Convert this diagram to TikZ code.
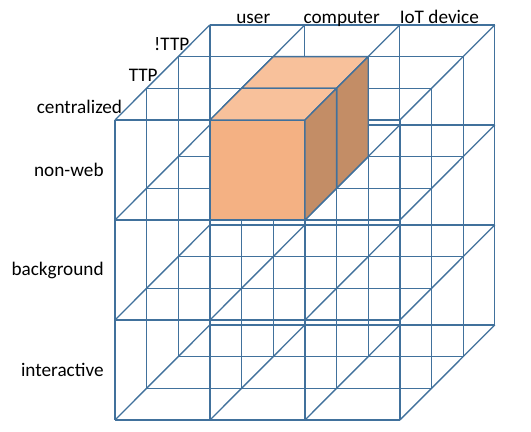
\documentclass[tikz,border=0pt]{standalone}
\usepackage{fontspec}
\setmainfont{Carlito}
\usetikzlibrary{positioning}
\definecolor{gridBlue}{HTML}{41719C}
\definecolor{boxFront}{HTML}{F4B183}
\definecolor{boxTop}{HTML}{F8C19B}
\definecolor{boxSide}{HTML}{C38D66}

\begin{document}
\begin{tikzpicture}[
    x={(2.5cm,0cm)}, y={(0cm,2.632cm)}, z={(0.832cm,0.834cm)},
    grid/.style={draw=gridBlue, line width=1pt},
    face/.style={draw=gridBlue, line width=1pt, line join=round},
    lbl/.style={font=\fontsize{14.4}{17}\selectfont, text=black}
  ]
    \useasboundingbox (-3.027cm,-0.316cm) rectangle (10.949cm,11.054cm);

    % Lattice of 3x3x3 cells
    \foreach \a in {0,...,3}{
      \foreach \b in {0,...,3}{
        \draw[grid] (\a,\b,0) -- (\a,\b,3);
        \draw[grid] (\a,0,\b) -- (\a,3,\b);
        \draw[grid] (0,\a,\b) -- (3,\a,\b);
      }
    }

    % Box: back cell
    \filldraw[face, fill=boxTop] (1,3,1) -- (2,3,1) -- (2,3,2) -- (1,3,2) -- cycle;
    \filldraw[face, fill=boxSide] (2,2,1) -- (2,3,1) -- (2,3,2) -- (2,2,2) -- cycle;

    % Box: front cell
    \filldraw[face, fill=boxFront] (1,2,0) -- (2,2,0) -- (2,3,0) -- (1,3,0) -- cycle;
    \filldraw[face, fill=boxTop] (1,3,0) -- (2,3,0) -- (2,3,1) -- (1,3,1) -- cycle;
    \filldraw[face, fill=boxSide] (2,2,0) -- (2,3,0) -- (2,3,1) -- (2,2,1) -- cycle;

    % Column labels
    \node[lbl, anchor=base, xshift=-3pt, yshift=0.8pt] (user) at (0.5,3,3) {user};
    \node[lbl, anchor=base, xshift=-8pt, yshift=0.8pt] (computer) at (1.5,3,3) {computer};
    \node[lbl, anchor=base, xshift=-6pt, yshift=0.8pt] (iot) at (2.5,3,3) {IoT device};

    % Depth labels
    \node[lbl, left, xshift=-3pt, yshift=-2.2pt] (central) at (0,3,0.5) {centralized};
    \node[lbl, left, yshift=-2.2pt] (ttp) at (0,3,1.5) {TTP};
    \node[lbl, left, yshift=-2.2pt] (nottp) at (0,3,2.5) {!TTP};

    % Row labels
    \node[lbl, left, xshift=-5pt] (nonweb) at (0,2.5,0) {non-web};
    \node[lbl, left, xshift=-5pt] (backgr) at (0,1.5,0) {background};
    \node[lbl, left, xshift=-5pt] (inter) at (0,0.5,0) {interactive};
  \end{tikzpicture}
\end{document}
